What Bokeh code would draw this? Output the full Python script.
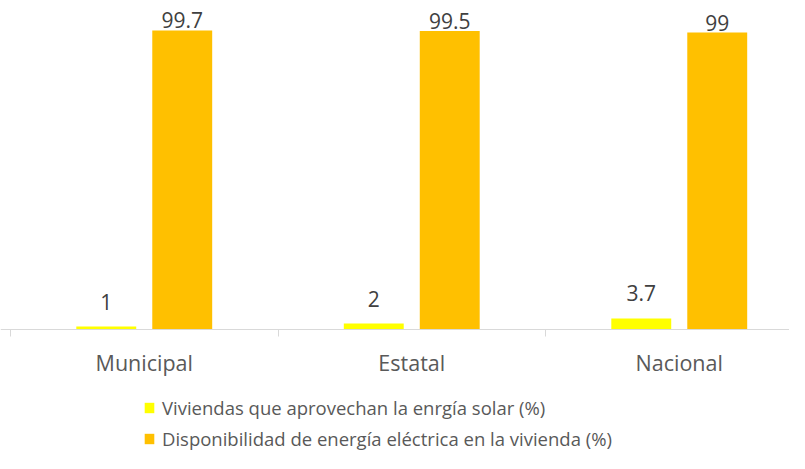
from bokeh.plotting import figure
from bokeh.models import Range1d, FixedTicker, Legend, LegendItem, ColumnDataSource
from bokeh.transform import dodge
from bokeh.embed import file_html
from bokeh.resources import INLINE

categories = ["Municipal", "Estatal", "Nacional"]
solar = [1, 2, 3.7]
electrica = [99.7, 99.5, 99]
solar_labels = ["1", "2", "3.7"]
electrica_labels = ["99.7", "99.5", "99"]
legend_labels = ["Viviendas que aprovechan la enrgía solar (%)",
                 "Disponibilidad de energía eléctrica en la vivienda (%)"]

YELLOW = "#FFFF00"
ORANGE = "#FFC000"
TEXT = "#595959"
FONT = "Open Sans"

W, H = 789, 453
px_per_cat = 267.5
x0 = -10 / px_per_cat
y_px = 3.0
base_y = 329
y_top = base_y / y_px
y_bot = -(H - base_y) / y_px

centers = [i + 0.5 for i in range(len(categories))]
src = ColumnDataSource(dict(x=centers, solar=solar, electrica=electrica,
                            sl=solar_labels, el=electrica_labels))

p = figure(width=W, height=H, output_backend="svg", toolbar_location=None,
           x_range=Range1d(x0, x0 + W / px_per_cat), y_range=Range1d(y_bot, y_top),
           min_border=0, outline_line_color=None)
p.grid.visible = False
p.yaxis.visible = False
p.background_fill_color = "white"

off = 0.142
bw = 0.224
r1 = p.vbar(x=dodge("x", -off), top="solar", width=bw, bottom=0, source=src,
            fill_color=YELLOW, line_color=None)
r2 = p.vbar(x=dodge("x", off), top="electrica", width=bw, bottom=0, source=src,
            fill_color=ORANGE, line_color=None)

p.text(x=dodge("x", -off), y="solar", text="sl", source=src, y_offset=-25,
       text_align="center", text_baseline="alphabetic", text_color="#404040",
       text_font_size="21px", text_font={"value": FONT})
p.text(x=dodge("x", off), y="electrica", text="el", source=src, y_offset=-10,
       text_align="center", text_baseline="alphabetic", text_color="#404040",
       text_font_size="21px", text_font={"value": FONT})

ax = p.xaxis[0]
ax.fixed_location = 0
ax.ticker = FixedTicker(ticks=centers, minor_ticks=list(range(len(categories) + 1)))
ax.major_label_overrides = {c: n for c, n in zip(centers, categories)}
ax.axis_line_color = "#D9D9D9"
ax.axis_line_width = 1
ax.major_tick_line_color = None
ax.major_tick_out = 0
ax.major_tick_in = 0
ax.minor_tick_line_color = "#D9D9D9"
ax.minor_tick_out = 7
ax.minor_tick_in = 0
ax.major_label_standoff = 11
ax.major_label_text_color = TEXT
ax.major_label_text_font = FONT
ax.major_label_text_font_size = "21.5px"

legend = Legend(items=[LegendItem(label=legend_labels[0], renderers=[r1]),
                       LegendItem(label=legend_labels[1], renderers=[r2])],
                location=(143, 2), orientation="vertical",
                glyph_width=12, glyph_height=13, label_standoff=7, spacing=6,
                padding=0, margin=0, border_line_color=None,
                background_fill_alpha=0,
                label_text_color=TEXT, label_text_font=FONT,
                label_text_font_size="18.5px")
p.add_layout(legend)

open("out.html", "w").write(file_html(p, INLINE))
